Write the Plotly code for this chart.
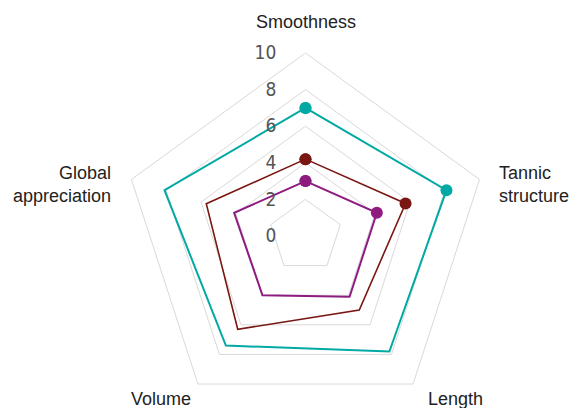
import plotly.graph_objects as go

categories = ["Smoothness", "Tannic<br>structure", "Length", "Volume", "Global<br>appreciation"]
teal_vals = [7.0, 8.1, 7.8, 7.4, 8.1]
red_vals = [4.2, 5.75, 5.0, 6.3, 5.7]
purple_vals = [3.0, 4.1, 4.1, 4.0, 4.1]
radial_ticks = [0, 2, 4, 6, 8, 10]

series = [
    ("Series A", teal_vals, "#00A9A4", 2),
    ("Series B", red_vals, "#7A1712", 1.6),
    ("Series C", purple_vals, "#8E1B80", 2),
]

fig = go.Figure()
for name, vals, color, w in series:
    r = list(vals) + [vals[0]]
    th = categories + [categories[0]]
    sizes = [12, 12, 0, 0, 0, 12]
    fig.add_trace(go.Scatterpolar(
        r=r, theta=th, mode="lines+markers", name=name,
        line=dict(color=color, width=w),
        marker=dict(size=sizes, color=color, opacity=1, line=dict(width=0)),
        showlegend=False,
    ))

W, H = 574, 420
label_font = dict(family="Liberation Sans, Arial, sans-serif", size=18, color="#222222")
# category label placement (pixel positions from top-left), one per category
label_pos = [
    (306, 22, "center", "middle"),
    (497, 184, "left", "middle"),
    (455, 399, "center", "middle"),
    (161, 399, "center", "middle"),
    (113, 184, "right", "middle"),
]
annotations = []
for text, (px, py, xa, ya) in zip(categories, label_pos):
    annotations.append(dict(
        text=text, x=px / W, y=(H - py) / H, xref="paper", yref="paper",
        xanchor=xa, yanchor=ya, align=xa if xa != "center" else "center",
        showarrow=False, font=label_font,
    ))

fig.update_layout(
    width=W, height=H,
    margin=dict(l=0, r=0, t=0, b=0),
    paper_bgcolor="white",
    showlegend=False,
    annotations=annotations,
    polar=dict(
        bgcolor="white",
        gridshape="linear",
        domain=dict(x=[0.2134, 0.851], y=[0.0, 368 / H]),
        radialaxis=dict(
            range=[0, 10], tickvals=radial_ticks, angle=90, tickangle=90,
            side="counterclockwise",
            showline=False, gridcolor="#D9D9D9", gridwidth=1,
            ticks="outside", ticklen=22, tickcolor="rgba(0,0,0,0)",
            tickfont=dict(family="Liberation Sans Narrow, DejaVu Sans Condensed, sans-serif", size=19, color="#555555"),
        ),
        angularaxis=dict(
            direction="clockwise", rotation=90,
            showgrid=False, showline=True, linecolor="#D9D9D9", linewidth=1,
            ticks="", showticklabels=False,
        ),
    ),
)

fig.write_html(
    "out.html",
    config={"displayModeBar": False},
    post_script=(
        "document.documentElement.style.overflow='hidden';"
        "document.body.style.overflow='hidden';"
        "document.body.style.margin='0';"
    ),
)
